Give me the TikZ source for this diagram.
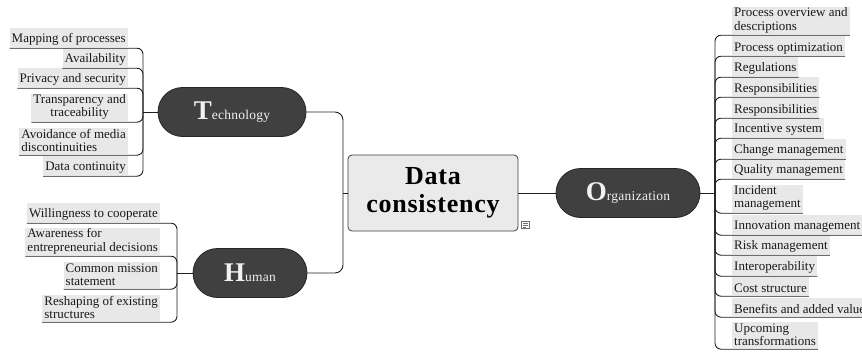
\documentclass[tikz,border=0pt]{standalone}
\usepackage{fontspec}
\setmainfont{Liberation Serif}
\usetikzlibrary{shapes.misc}
\definecolor{leafbg}{HTML}{E8E8E8}
\definecolor{pillfill}{HTML}{404040}
\definecolor{corefill}{HTML}{EAEAEA}
\definecolor{inkline}{HTML}{1E1E1E}
\newcommand{\leafstrut}{\rule[-1.5pt]{0pt}{15.5pt}}
\begin{document}
\begin{tikzpicture}[x=1pt,y=-1pt,
  leaf/.style={fill=leafbg, inner xsep=2pt, inner ysep=1pt, text=black!90,
    font=\fontsize{13}{13.2}\selectfont,
    execute at begin node=\leafstrut, execute at end node=\leafstrut},
  leafL/.style={leaf, anchor=south east},
  leafR/.style={leaf, anchor=south west, align=left},
  pill/.style={rounded rectangle, fill=pillfill, draw=black!85, line width=0.8pt,
    text=white!95!black, minimum height=49pt, inner sep=0pt},
  core/.style={rectangle, rounded corners=4pt, fill=corefill, draw=black!75,
    line width=0.8pt, minimum width=170pt, minimum height=76pt, align=center,
    font=\fontsize{26}{28}\selectfont\bfseries\addfontfeature{LetterSpace=3}},
  link/.style={draw=inkline, line width=0.9pt, rounded corners=6pt},
  hub/.style={draw=inkline, line width=0.9pt, rounded corners=8pt}
]
\useasboundingbox (0,0) rectangle (862,351);

\newcommand{\bigini}[2]{{\fontsize{27}{27}\selectfont\bfseries #1}{\fontsize{13.5}{13.5}\selectfont\addfontfeature{LetterSpace=2}#2}}

% central topic and main branches
\node[core] (C) at (433,193) {Data\\consistency};
\node[pill, minimum width=148pt] (T) at (232,112) {\bigini{T}{echnology}};
\node[pill, minimum width=114pt] (H) at (250,273) {\bigini{H}{uman}};
\node[pill, minimum width=144pt] (O) at (628,193) {\bigini{O}{rganization}};

% notes icon beside the central topic
\draw[black!55, line width=0.5pt, fill=white] (521.5,221.5) rectangle (529.5,228.5);
\draw[black!55, line width=0.5pt] (523,223.5) -- (528,223.5) (523,225.5) -- (528,225.5) (523,227.3) -- (526,227.3);

% junction points
\coordinate (cj) at (343,193);
\coordinate (tj) at (143,112);
\coordinate (hj) at (177,273);
\coordinate (oj) at (715,193);

\draw[hub] (C.west) -- (cj);
\draw[hub] (cj) |- (T.east);
\draw[hub] (cj) |- (H.east);
\draw[hub] (C.east) -- (O.west);
\draw[hub] (T.west) -- (tj);
\draw[hub] (H.west) -- (hj);
\draw[hub] (O.east) -- (oj);

% Technology (each topic sits just above its underline)
\node[leafL] (t1) at (128,47) {Mapping of processes};
\node[leafL] (t2) at (128,67) {Availability};
\node[leafL] (t3) at (128,87) {Privacy and security};
\node[leafL, align=center] (t4) at (128,121) {Transparency and\\traceability};
\node[leafL, align=left] (t5) at (128,154) {Avoidance of media\\discontinuities};
\node[leafL] (t6) at (128,175) {Data continuity};
\foreach \n in {t1,t2,t3,t4,t5,t6} \draw[link] (tj) |- ([yshift=-1.2pt]\n.south west);

% Human
\node[leafL] (h1) at (160,222) {Willingness to cooperate};
\node[leafL, align=left] (h2) at (160,255) {Awareness for\\entrepreneurial decisions};
\node[leafL, align=left] (h3) at (160,288) {Common mission\\statement};
\node[leafL, align=left] (h4) at (160,321) {Reshaping of existing\\structures};
\foreach \n in {h1,h2,h3,h4} \draw[link] (hj) |- ([yshift=-1.2pt]\n.south west);

% Organization
\node[leafR] (o1) at (732,34) {Process overview and\\descriptions};
\node[leafR] (o2) at (732,55) {Process optimization};
\node[leafR] (o3) at (732,76) {Regulations};
\node[leafR] (o4) at (732,96) {Responsibilities};
\node[leafR] (o5) at (732,117) {Responsibilities};
\node[leafR] (o6) at (732,137) {Incentive system};
\node[leafR] (o7) at (732,158) {Change management};
\node[leafR] (o8) at (732,178) {Quality management};
\node[leafR] (o9) at (732,212) {Incident\\management};
\node[leafR] (o10) at (732,234) {Innovation management};
\node[leafR] (o11) at (732,254) {Risk management};
\node[leafR] (o12) at (732,275) {Interoperability};
\node[leafR] (o13) at (732,295) {Cost structure};
\node[leafR] (o14) at (732,316) {Benefits and added value};
\node[leafR] (o15) at (732,348) {Upcoming\\transformations};
\foreach \n in {o1,o2,o3,o4,o5,o6,o7,o8,o9,o10,o11,o12,o13,o14,o15}
  \draw[link] (oj) |- ([yshift=-1.2pt]\n.south east);
\end{tikzpicture}
\end{document}
